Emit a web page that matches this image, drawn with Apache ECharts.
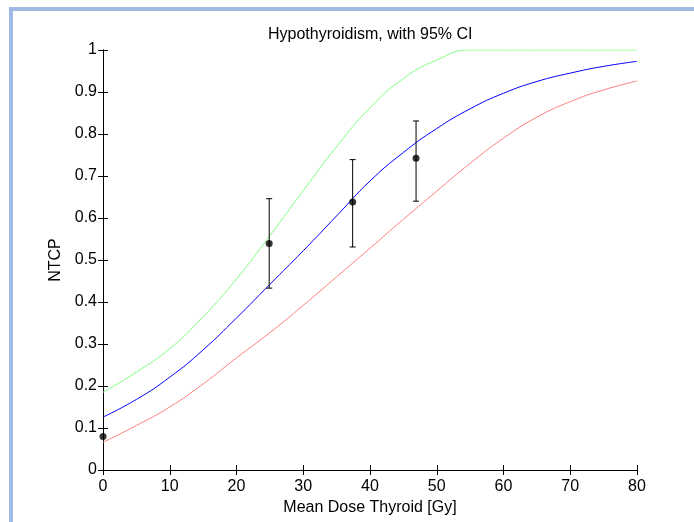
<!DOCTYPE html>
<html>
<head>
<meta charset="utf-8">
<script src="https://cdn.jsdelivr.net/npm/echarts@6/dist/echarts.min.js"></script>
<style>
  html, body { margin: 0; padding: 0; background: #fff; }
  #chart { width: 694px; height: 522px; }
</style>
</head>
<body>
<div id="chart"></div>
<script>
// dose grid [Gy] and curves
const doseGrid = [0, 5, 10, 15, 20, 25, 30, 35, 40, 45, 50, 55, 60, 65, 70, 75, 80];
const ntcpFit  = [0.126, 0.168, 0.221, 0.286, 0.362, 0.442, 0.522, 0.605, 0.688, 0.756, 0.813, 0.860, 0.897, 0.925, 0.945, 0.961, 0.973];
const ciUpper  = [0.185, 0.233, 0.289, 0.365, 0.455, 0.558, 0.665, 0.770, 0.862, 0.932, 0.976, 1, 1, 1, 1, 1, 1];
const ciLower  = [0.066, 0.106, 0.150, 0.205, 0.267, 0.327, 0.392, 0.460, 0.528, 0.597, 0.664, 0.730, 0.790, 0.840, 0.877, 0.905, 0.926];

// observed points with error bars
const obsDose = [0, 24.9, 37.4, 46.9];
const obsNtcp = [0.080, 0.539, 0.638, 0.742];
const obsLow  = [null, 0.433, 0.531, 0.640];
const obsHigh = [null, 0.646, 0.739, 0.831];

const xTicks = { min: 0, max: 80, interval: 10 };
const yTicks = { min: 0, max: 1, interval: 0.1 };

const font = '"Liberation Sans", Arial, sans-serif';
const pairs = (ys) => doseGrid.map((d, i) => [d, ys[i]]);

const chart = echarts.init(document.getElementById('chart'), null, { renderer: 'canvas' });

const baseX = {
  type: 'value',
  min: xTicks.min, max: xTicks.max, interval: xTicks.interval,
  axisLine: { show: true, lineStyle: { color: '#000', width: 1 } },
  axisTick: { show: true, inside: true, length: 5, lineStyle: { color: '#000' } },
  splitLine: { show: false }
};
const baseY = {
  type: 'value',
  min: yTicks.min, max: yTicks.max, interval: yTicks.interval,
  axisLine: { show: true, lineStyle: { color: '#000', width: 1 } },
  axisTick: { show: true, inside: true, length: 5, lineStyle: { color: '#000' } },
  splitLine: { show: false }
};

const errBars = obsDose.map((d, i) => [d, obsLow[i], obsHigh[i]]).filter(r => r[1] !== null);

chart.setOption({
  backgroundColor: '#fff',
  animation: false,
  graphic: [
    { type: 'rect', shape: { x: 9, y: 7, width: 685, height: 4 }, style: { fill: '#a2bae3' }, silent: true },
    { type: 'rect', shape: { x: 9, y: 7, width: 4, height: 515 }, style: { fill: '#a2bae3' }, silent: true }
  ],
  title: {
    text: 'Hypothyroidism, with 95% CI',
    left: 263, top: 22,
    textStyle: { fontFamily: font, fontSize: 16, fontWeight: 'normal', color: '#000' }
  },
  grid: { left: 103, right: 57, top: 50, bottom: 52 },
  xAxis: [
    Object.assign({}, baseX, {
      position: 'bottom',
      name: 'Mean Dose Thyroid [Gy]', nameLocation: 'middle', nameGap: 29,
      nameTextStyle: { fontFamily: font, fontSize: 16, color: '#000' },
      axisLabel: { fontFamily: font, fontSize: 16, color: '#000', margin: 9 }
    }),
    Object.assign({}, baseX, { position: 'top', axisLabel: { show: false } })
  ],
  yAxis: [
    Object.assign({}, baseY, {
      position: 'left',
      name: 'NTCP', nameLocation: 'middle', nameGap: 36,
      nameTextStyle: { fontFamily: font, fontSize: 16, color: '#000' },
      axisLabel: { fontFamily: font, fontSize: 16, color: '#000', margin: 6,
        formatter: v => String(+v.toFixed(1)) }
    }),
    Object.assign({}, baseY, { position: 'right', axisLabel: { show: false } })
  ],
  series: [
    {
      name: 'upper', type: 'line', data: pairs(ciUpper),
      showSymbol: false, smooth: 0.5,
      lineStyle: { color: '#80ff80', width: 1 }, z: 3
    },
    {
      name: 'fit', type: 'line', data: pairs(ntcpFit),
      showSymbol: false, smooth: 0.5,
      lineStyle: { color: '#0000ff', width: 1 }, z: 3
    },
    {
      name: 'lower', type: 'line', data: pairs(ciLower),
      showSymbol: false, smooth: 0.5,
      lineStyle: { color: '#ff8080', width: 1 }, z: 3
    },
    {
      name: 'errors', type: 'custom', data: errBars, z: 4,
      renderItem: (params, api) => {
        const lo = api.coord([api.value(0), api.value(1)]);
        const hi = api.coord([api.value(0), api.value(2)]);
        const w = 3;
        const st = { stroke: '#000', lineWidth: 1 };
        return {
          type: 'group',
          children: [
            { type: 'line', shape: { x1: lo[0], y1: lo[1], x2: hi[0], y2: hi[1] }, style: st },
            { type: 'line', shape: { x1: lo[0] - w, y1: lo[1], x2: lo[0] + w, y2: lo[1] }, style: st },
            { type: 'line', shape: { x1: hi[0] - w, y1: hi[1], x2: hi[0] + w, y2: hi[1] }, style: st }
          ]
        };
      }
    },
    {
      name: 'observed', type: 'scatter',
      data: obsDose.map((d, i) => [d, obsNtcp[i]]),
      symbol: 'circle', symbolSize: 7, clip: false,
      itemStyle: { color: '#000' }, z: 5
    }
  ]
});
</script>
</body>
</html>
